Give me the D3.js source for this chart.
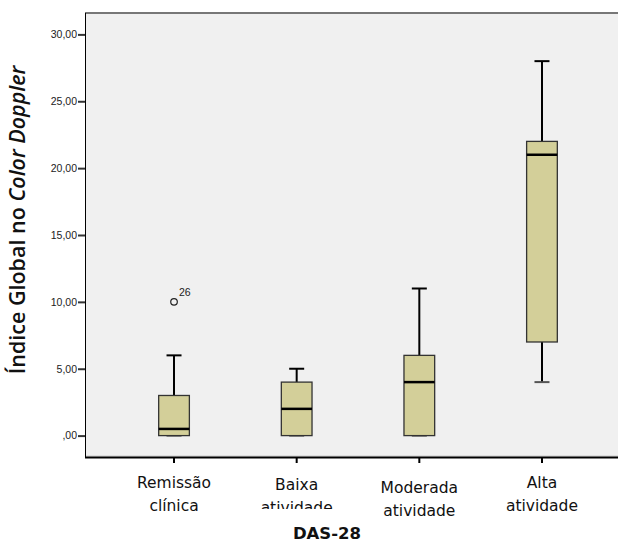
<!DOCTYPE html>
<html><head><meta charset="utf-8">
<script src="https://cdn.jsdelivr.net/npm/d3@7"></script>
<style>body{margin:0;background:#fff}svg{display:block}</style>
</head><body>
<script>
const categories = [["Remissão","clínica"],["Baixa","atividade"],["Moderada","atividade"],["Alta","atividade"]];
const whiskerLow = [0, 0, 0, 4];
const q1 = [0, 0, 0, 7];
const median = [0.5, 2, 4, 21];
const q3 = [3, 4, 6, 22];
const whiskerHigh = [6, 5, 11, 28];
const outliers = [{cat:0, value:10, label:"26"}];
const yTicks = [0, 5, 10, 15, 20, 25, 30];
const yTickLabels = [",00","5,00","10,00","15,00","20,00","25,00","30,00"];

(function(){
const W = 619, H = 544;
const pL = 85, pR = 618, pT = 13, pB = 457;
const svg = d3.select("body").append("svg").attr("width", W).attr("height", H);

const y = d3.scaleLinear().domain([-1.6, 31.6]).range([pB, pT]);
const x = d3.scaleBand().domain(d3.range(categories.length)).range([112.7, 603.3]);
const bw = 30.7, cw = 15;

svg.append("rect").attr("x", pL).attr("y", pT).attr("width", pR - pL).attr("height", pB - pT).attr("fill", "#f0f0f0");
svg.append("line").attr("x1", pL).attr("x2", pR).attr("y1", pT).attr("y2", pT).attr("stroke", "#777").attr("stroke-width", 2);
svg.append("line").attr("x1", pL).attr("x2", pR).attr("y1", pB - 1).attr("y2", pB - 1).attr("stroke", "#ccc").attr("stroke-width", 1);

const cx = i => x(i) + x.bandwidth() / 2;

// y axis
const yAxis = d3.axisLeft(y).tickValues(yTicks).tickFormat((d, i) => yTickLabels[i]).tickSize(7).tickPadding(1);
const gy = svg.append("g").attr("transform", `translate(${pL},0)`).call(yAxis);
gy.select(".domain").attr("stroke", "#000").attr("d", `M0.5,${pT}V${pB}`);
gy.selectAll(".tick line").attr("stroke", "#333").attr("stroke-width", 2);
gy.selectAll(".tick text").attr("font-family", "Liberation Sans, Arial, sans-serif").attr("font-size", 10.5).attr("fill", "#222");

// x axis
const xAxis = d3.axisBottom(x).tickFormat(() => "").tickSize(6).tickSizeOuter(0);
const gx = svg.append("g").attr("transform", `translate(0,${pB})`).call(xAxis);
gx.select(".domain").attr("stroke", "#000").attr("stroke-width", 2).attr("d", `M${pL},0.5H${pR}`);
gx.selectAll(".tick line").attr("stroke", "#000").attr("stroke-width", 2);

categories.forEach((c, i) => {
  const t = svg.append("text").attr("x", cx(i)).attr("text-anchor", "middle")
    .attr("font-family", "DejaVu Sans, Verdana, sans-serif").attr("font-size", 15.5).attr("fill", "#111");
  const y1 = (i === 1) ? 490 : (i === 2 ? 493 : 488);
  t.append("tspan").attr("x", cx(i)).attr("y", y1).text(c[0]);
  t.append("tspan").attr("x", cx(i)).attr("y", y1 + 23).text(c[1]);
});
// clip "atividade" of Baixa
svg.append("rect").attr("x", 250).attr("y", 509).attr("width", 90).attr("height", 12).attr("fill", "#fff");

svg.append("text").attr("x", 327).attr("y", 539).attr("text-anchor", "middle")
  .attr("font-family", "DejaVu Sans, Verdana, sans-serif").attr("font-weight", "bold").attr("font-size", 16.5).attr("fill", "#111").text("DAS-28");

const yt = svg.append("text").attr("transform", "translate(25,220) rotate(-90)").attr("text-anchor", "middle")
  .attr("font-family", "Open Sans, sans-serif").attr("font-weight", 600).attr("font-size", 21.5).attr("fill", "#111");
yt.append("tspan").text("Índice Global no ");
yt.append("tspan").attr("font-style", "italic").text("Color Doppler");

// boxes
const g = svg.append("g");
categories.forEach((c, i) => {
  const X = cx(i);
  g.append("line").attr("x1", X).attr("x2", X).attr("y1", y(q3[i])).attr("y2", y(whiskerHigh[i])).attr("stroke", "#000").attr("stroke-width", 2);
  g.append("line").attr("x1", X - cw/2).attr("x2", X + cw/2).attr("y1", y(whiskerHigh[i])).attr("y2", y(whiskerHigh[i])).attr("stroke", "#000").attr("stroke-width", 2);
  g.append("line").attr("x1", X).attr("x2", X).attr("y1", y(q1[i])).attr("y2", y(whiskerLow[i])).attr("stroke", "#000").attr("stroke-width", 2);
  g.append("line").attr("x1", X - cw/2).attr("x2", X + cw/2).attr("y1", y(whiskerLow[i])).attr("y2", y(whiskerLow[i])).attr("stroke", "#555").attr("stroke-width", 2);
  g.append("rect").attr("x", X - bw/2).attr("y", y(q3[i])).attr("width", bw).attr("height", y(q1[i]) - y(q3[i]))
    .attr("fill", "#d3cf99").attr("stroke", "#333").attr("stroke-width", 1.3);
  g.append("line").attr("x1", X - bw/2).attr("x2", X + bw/2).attr("y1", y(median[i])).attr("y2", y(median[i])).attr("stroke", "#000").attr("stroke-width", 2.5);
});
outliers.forEach(o => {
  g.append("circle").attr("cx", cx(o.cat)).attr("cy", y(o.value)).attr("r", 3.3).attr("fill", "none").attr("stroke", "#222").attr("stroke-width", 1.2);
  g.append("text").attr("x", cx(o.cat) + 5).attr("y", y(o.value) - 6).attr("font-family", "Liberation Sans, Arial, sans-serif").attr("font-size", 10.5).attr("fill", "#222").text(o.label);
});
})();
</script>
</body></html>
